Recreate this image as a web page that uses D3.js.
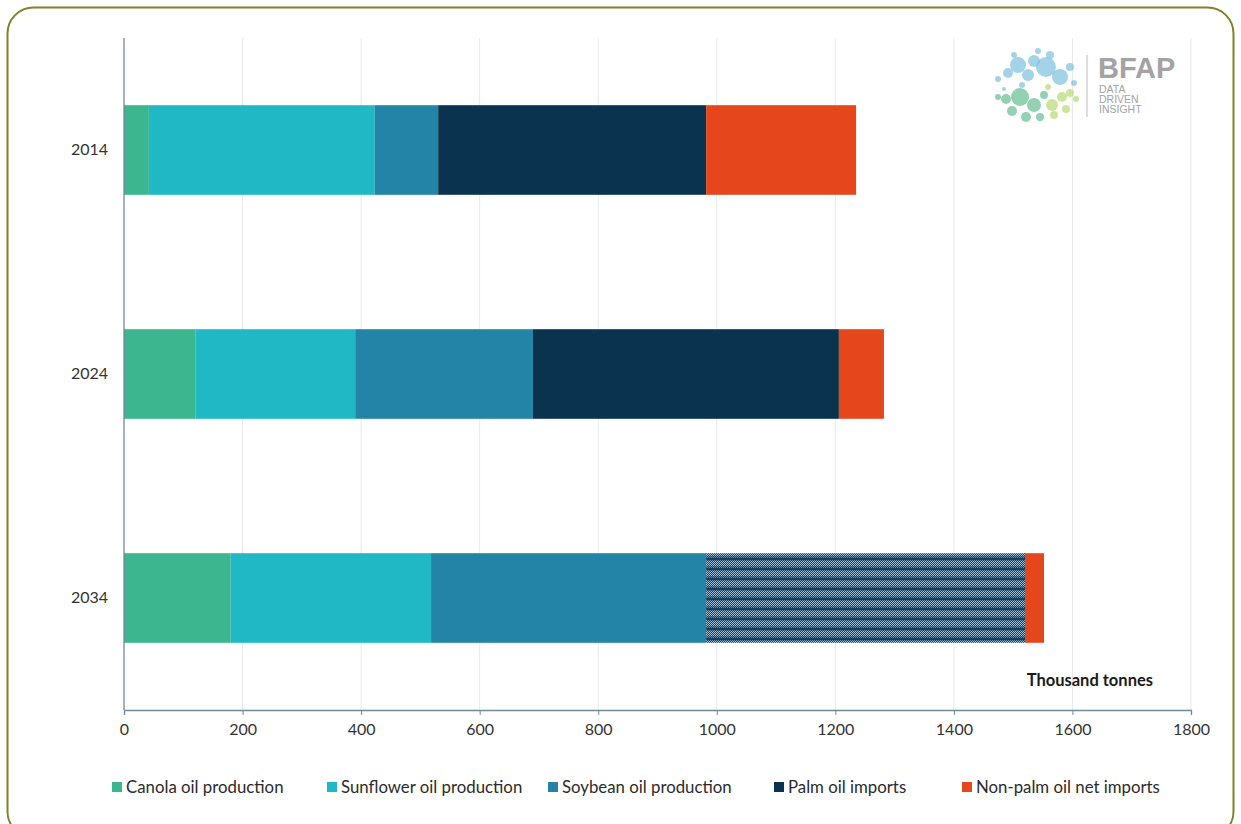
<!DOCTYPE html>
<html>
<head>
<meta charset="utf-8">
<script src="https://cdn.jsdelivr.net/npm/d3@7"></script>
<style>
  html, body { margin: 0; padding: 0; background: #ffffff; }
  svg { display: block; font-family: Lato, "Open Sans", sans-serif; }
</style>
</head>
<body>
<svg id="chart" width="1241" height="824"></svg>
<script>
// Vegetable oil supply by source, thousand tonnes
const years = ["2014", "2024", "2034"];
const seriesNames = [
  "Canola oil production",
  "Sunflower oil production",
  "Soybean oil production",
  "Palm oil imports",
  "Non-palm oil net imports"
];
const canola    = [42, 121, 180];
const sunflower = [381, 269, 338];
const soybean   = [107, 300, 464];
const palm      = [452, 516, 538];
const nonPalm   = [253, 76, 32];
const xTicks = [0, 200, 400, 600, 800, 1000, 1200, 1400, 1600, 1800];
const colors = ["#3cb68f", "#1fb8c4", "#2384a7", "#09334f", "#e6461c"];

const svg = d3.select("#chart");

// rounded frame
svg.append("rect")
  .attr("x", 7.5).attr("y", 7.5)
  .attr("width", 1226).attr("height", 830)
  .attr("rx", 26).attr("ry", 26)
  .attr("fill", "none")
  .attr("stroke", "#847f2a")
  .attr("stroke-width", 2);

// dotted stripe pattern for projected palm imports
const defs = svg.append("defs");
const pat = defs.append("pattern")
  .attr("id", "palmProjected")
  .attr("patternUnits", "userSpaceOnUse")
  .attr("width", 2).attr("height", 10);
pat.append("rect").attr("width", 2).attr("height", 10).attr("fill", "#153f5e");
[[0,0],[1,1],[0,2],[1,3],[0,4],[1,5],[0,6],[1,7]].forEach(([x, y]) => {
  pat.append("rect").attr("x", x).attr("y", y).attr("width", 1).attr("height", 1)
    .attr("fill", (y >= 1 && y <= 5) ? "#a7c2d6" : "#6a8fab");
});

const x = d3.scaleLinear().domain([0, 1800]).range([124, 1191]);
const y = d3.scaleBand().domain(years).range([38, 710]).paddingInner(0.6).paddingOuter(0.3);

// vertical grid lines
svg.append("g")
  .selectAll("line")
  .data(xTicks.filter(d => d > 0))
  .join("line")
  .attr("x1", d => x(d)).attr("x2", d => x(d))
  .attr("y1", 38).attr("y2", 710)
  .attr("stroke", "#e6e9ec")
  .attr("stroke-width", 1);

// stacked bars
const stackData = years.map((yr, i) => {
  const vals = [canola[i], sunflower[i], soybean[i], palm[i], nonPalm[i]];
  const o = { year: yr };
  seriesNames.forEach((s, k) => o[s] = vals[k]);
  return o;
});
const stacked = d3.stack().keys(seriesNames)(stackData);

const layers = svg.append("g").selectAll("g")
  .data(stacked)
  .join("g");
layers.each(function(layer, k) {
  d3.select(this).selectAll("rect")
    .data(layer)
    .join("rect")
    .attr("x", d => x(d[0]))
    .attr("width", d => x(d[1]) - x(d[0]))
    .attr("y", d => y(d.data.year))
    .attr("height", y.bandwidth())
    .attr("fill", d => (k === 3 && d.data.year === "2034") ? "url(#palmProjected)" : colors[k]);
});

// x axis
const xAxis = svg.append("g")
  .attr("transform", "translate(0,710)")
  .call(d3.axisBottom(x).tickValues(xTicks).tickSize(5).tickPadding(9).tickFormat(d3.format("d")));
xAxis.select(".domain").attr("stroke", "#6f8a96").attr("stroke-width", 1.3);
xAxis.selectAll(".tick line").attr("stroke", "#6f8a96");
xAxis.selectAll(".tick text").attr("fill", "#333333").attr("font-size", 16)
  .attr("font-family", "Lato, sans-serif");

// y axis
const yAxis = svg.append("g")
  .attr("transform", "translate(124,0)")
  .call(d3.axisLeft(y).tickSize(0).tickPadding(16));
yAxis.select(".domain").attr("stroke", "#6f8a96").attr("stroke-width", 1.3)
  .attr("d", "M0,38V710");
yAxis.selectAll(".tick text").attr("fill", "#333333").attr("font-size", 16)
  .attr("font-family", "Lato, sans-serif");

// unit label
svg.append("text")
  .attr("x", 1153).attr("y", 686)
  .attr("text-anchor", "end")
  .attr("font-size", 16.5).attr("font-weight", "bold")
  .attr("fill", "#1a1a1a")
  .text("Thousand tonnes");

// legend
const legendX = [112, 327, 548, 774, 962];
const legend = svg.append("g").selectAll("g")
  .data(seriesNames)
  .join("g")
  .attr("transform", (d, i) => `translate(${legendX[i]},782)`);
legend.append("rect").attr("width", 10).attr("height", 10)
  .attr("fill", (d, i) => colors[i]);
legend.append("text")
  .attr("x", 14).attr("y", 11)
  .attr("font-size", 16.8).attr("fill", "#2b2b2b")
  .text(d => d);

// logo
const logo = svg.append("g").attr("transform", "translate(990,45)");
const blueDots = [[28,20,8],[44,16,6],[56,22,10],[18,28,5],[38,30,6],[70,32,8],[8,34,3],[60,10,4],[24,10,3],[48,6,3],[80,22,4],[84,38,3],[32,40,3],[14,44,2]];
const greenDots = [[30,52,9],[16,54,5],[44,60,7],[54,50,4],[62,60,6],[72,52,5],[80,48,4],[8,52,3],[22,66,5],[36,72,5],[50,72,4],[64,70,4],[76,64,4],[86,54,3],[58,42,3]];
blueDots.forEach(([cx, cy, r]) => logo.append("circle").attr("cx", cx).attr("cy", cy).attr("r", r)
  .attr("fill", "#7ec0de").attr("opacity", 0.7));
greenDots.forEach(([cx, cy, r]) => logo.append("circle").attr("cx", cx).attr("cy", cy).attr("r", r)
  .attr("fill", cx > 55 ? "#b9dc7b" : "#6dc29a").attr("opacity", 0.75));
logo.append("line").attr("x1", 97).attr("x2", 97).attr("y1", 10).attr("y2", 72)
  .attr("stroke", "#c8c8c8").attr("stroke-width", 1.2);
logo.append("text").attr("x", 108).attr("y", 33).attr("font-size", 29).attr("font-weight", "bold")
  .attr("fill", "#a3a3a3").attr("font-family", "Liberation Sans, Arial, sans-serif").text("BFAP");
["DATA", "DRIVEN", "INSIGHT"].forEach((t, i) => logo.append("text")
  .attr("x", 109).attr("y", 48 + i * 10).attr("font-size", 10.5)
  .attr("fill", "#a3a3a3").attr("font-family", "Liberation Sans, Arial, sans-serif").text(t));
</script>
</body>
</html>
